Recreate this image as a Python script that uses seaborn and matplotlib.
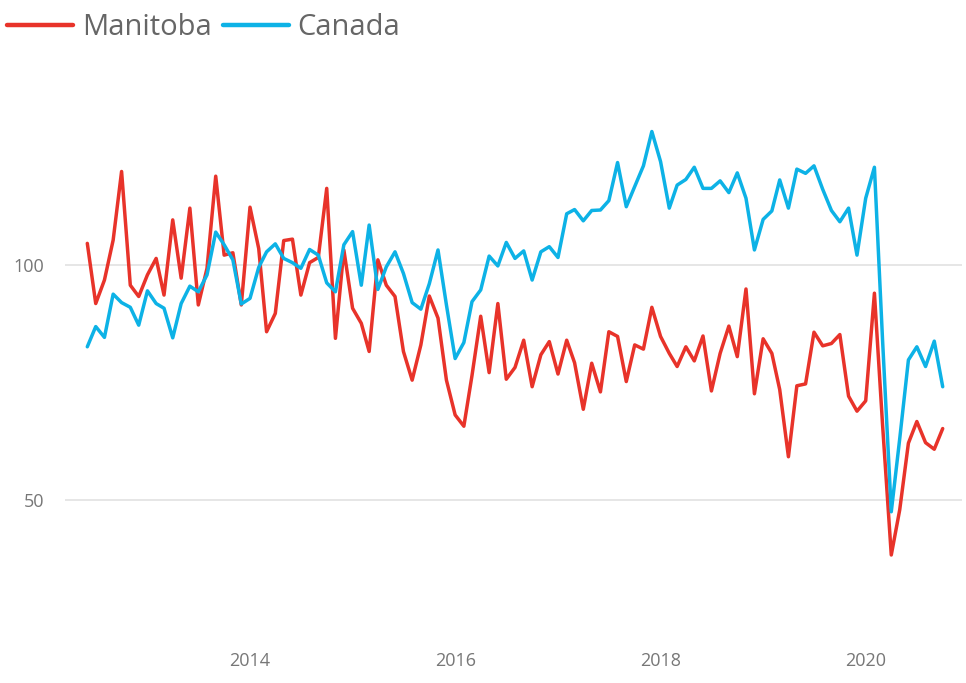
import matplotlib
matplotlib.use("Agg")
import matplotlib.pyplot as plt
import matplotlib.dates as mdates
from matplotlib.lines import Line2D
import pandas as pd
import numpy as np
import seaborn as sns

# monthly index, Jun 2012 - Oct 2020
months = pd.date_range("2012-06-01", "2020-10-01", freq="MS")

manitoba = [104.6, 91.8, 96.8, 105.3, 119.9, 95.7, 93.3, 97.9, 101.4, 93.6,
            109.6, 97.2, 112.1, 91.5, 99.3, 118.9, 102.1, 102.6, 91.5, 112.3,
            103.5, 85.8, 89.7, 105.2, 105.5, 93.6, 100.5, 101.6, 116.3, 84.4,
            103.2, 90.8, 87.6, 81.6, 101.1, 95.7, 93.3, 81.6, 75.5, 83.0,
            93.4, 88.7, 75.5, 68.1, 65.7, 76.5, 89.1, 77.1, 91.8, 75.7,
            78.2, 84.0, 74.1, 80.9, 83.7, 76.8, 84.0, 79.2, 69.3, 79.1,
            73.0, 85.8, 84.8, 75.2, 83.0, 82.1, 91.0, 84.8, 81.2, 78.4,
            82.6, 79.6, 84.9, 73.2, 81.2, 87.0, 80.5, 94.9, 72.6, 84.3,
            81.2, 73.5, 59.2, 74.3, 74.7, 85.7, 82.8, 83.3, 85.2, 72.1,
            68.9, 71.1, 94.0, 66.0, 38.3, 47.9, 62.1, 66.7, 62.2, 60.8,
            65.2]

canada = [82.6, 86.9, 84.6, 93.8, 92.0, 91.0, 87.2, 94.5, 91.8, 90.8,
          84.5, 91.8, 95.5, 94.3, 97.9, 107.0, 104.3, 101.1, 91.7, 92.9,
          99.5, 102.8, 104.5, 101.4, 100.5, 99.3, 103.3, 102.1, 96.2, 94.3,
          104.3, 107.1, 95.7, 108.5, 94.8, 99.6, 102.8, 98.2, 92.0, 90.6,
          96.0, 103.2, 91.5, 80.1, 83.5, 92.2, 94.7, 101.9, 99.8, 104.8,
          101.4, 103.0, 96.8, 102.8, 103.9, 101.6, 110.9, 111.8, 109.4, 111.6,
          111.7, 113.7, 121.8, 112.4, 116.7, 121.1, 128.4, 122.0, 112.1, 117.0,
          118.2, 120.8, 116.3, 116.3, 117.9, 115.4, 119.6, 114.2, 103.2, 109.7,
          111.5, 118.1, 112.1, 120.4, 119.5, 121.1, 116.1, 111.6, 109.2, 112.1,
          102.1, 114.2, 120.8, 84.0, 47.5, 63.0, 79.8, 82.6, 78.4, 83.8,
          74.1]

df = pd.DataFrame({"date": list(months) * 2,
                   "value": manitoba + canada,
                   "region": ["Manitoba"] * len(months) + ["Canada"] * len(months)})

sns.set_theme(style="white")
plt.rcParams['font.family'] = ['Open Sans', 'DejaVu Sans']

W, H = 966, 683
fig = plt.figure(figsize=(W / 100, H / 100), dpi=100)

# axes placement in pixels
ax_left, ax_right = 65, 962
y_lo, y_hi = 20, 140
px_per_unit = 4.7
ax_top_px = 265 - (y_hi - 100) * px_per_unit
ax_bot_px = 500 + (50 - y_lo) * px_per_unit
ax = fig.add_axes([ax_left / W, 1 - ax_bot_px / H,
                   (ax_right - ax_left) / W, (ax_bot_px - ax_top_px) / H])

palette = {"Manitoba": "#E8332A", "Canada": "#0DB2E6"}
sns.lineplot(data=df, x="date", y="value", hue="region", palette=palette,
             linewidth=2.5, ax=ax, legend=False)

# x limits so the first / last month land where they do in the picture
x0 = mdates.date2num(months[0])
x1 = mdates.date2num(months[-1])
span = x1 - x0
ax.set_xlim(x0 - span * (87.3 - ax_left) / 855.4,
            x1 + span * (ax_right - 942.7) / 855.4)
ax.set_ylim(y_lo, y_hi)

ax.set_yticks([50, 100])
ax.xaxis.set_major_locator(mdates.YearLocator(2))
ax.xaxis.set_major_formatter(mdates.DateFormatter("%Y"))
ax.grid(axis="y", color="#E4E4E4", linewidth=1.3)
ax.grid(axis="x", visible=False)
ax.tick_params(axis="both", length=0, labelsize=13, labelcolor="#777777")
ax.tick_params(axis="y", pad=15)
ax.tick_params(axis="x", pad=8)
for s in ax.spines.values():
    s.set_visible(False)
ax.set_xlabel("")
ax.set_ylabel("")

handles = [Line2D([], [], color=palette["Manitoba"], linewidth=3.2),
           Line2D([], [], color=palette["Canada"], linewidth=3.2)]
fig.legend(handles, ["Manitoba", "Canada"], loc="upper left",
           bbox_to_anchor=(0.0, 0.992), ncol=2, frameon=False,
           fontsize=21, labelcolor="#666666", handlelength=2.25,
           handletextpad=0.3, columnspacing=0.4, borderaxespad=0.0,
           borderpad=0.25)

fig.savefig("out.png", dpi=100)
